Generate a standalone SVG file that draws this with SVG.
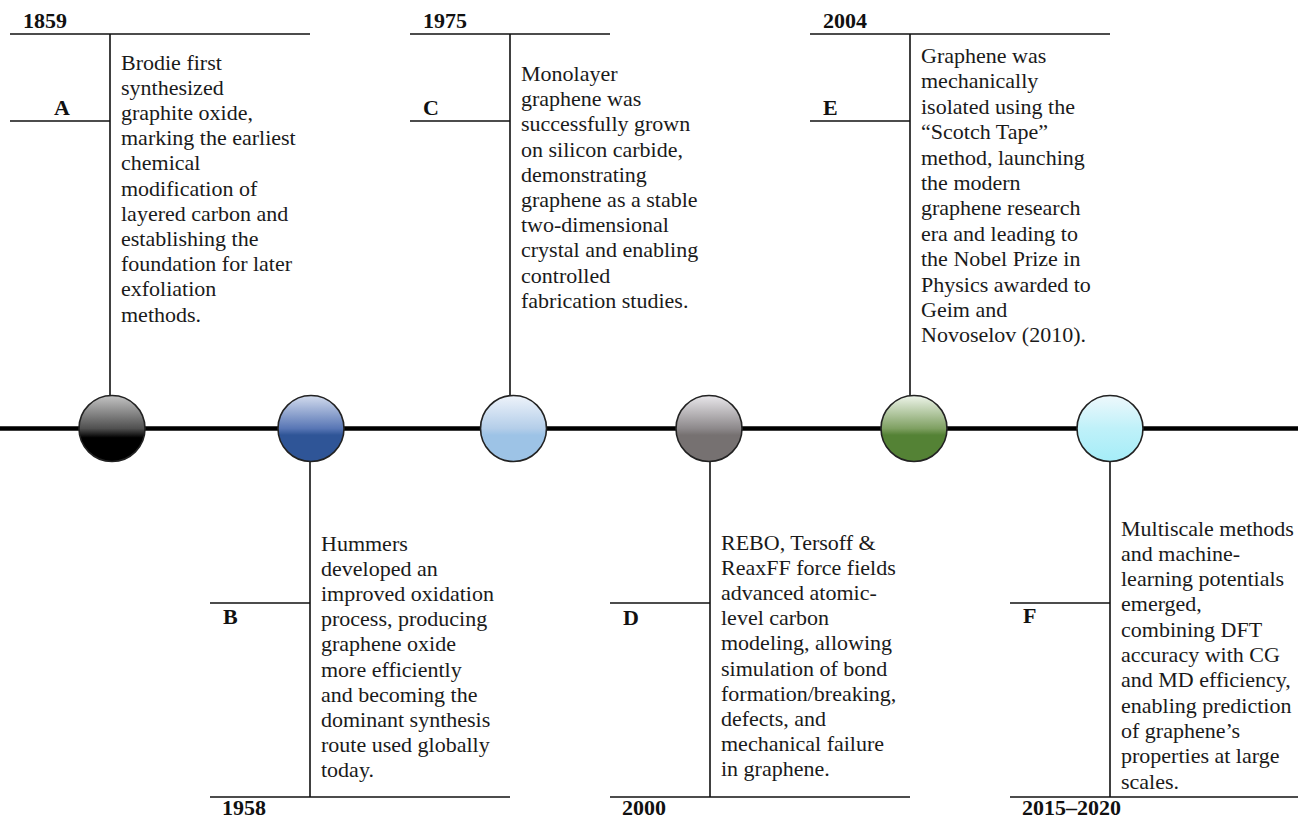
<svg xmlns="http://www.w3.org/2000/svg" width="1298" height="820" viewBox="0 0 1298 820">
<style>
.ln{stroke:#111;stroke-width:1.6;fill:none}
.main{stroke:#000;stroke-width:4.5}
.dot{stroke:#222;stroke-width:1.6}
.yr{font-family:"Liberation Serif","Times New Roman",serif;font-weight:bold;font-size:22px;fill:#111}
.lb{font-family:"Liberation Serif","Times New Roman",serif;font-weight:bold;font-size:22px;fill:#111}
.tx{font-family:"Liberation Serif","Times New Roman",serif;font-size:22px;fill:#1a1a1a}
</style>
<defs>
<linearGradient id="gA" x1="0" y1="0" x2="0" y2="1"><stop offset="0" stop-color="#c4c4c4"/><stop offset="0.5" stop-color="#505050"/><stop offset="0.64" stop-color="#000"/><stop offset="1" stop-color="#000"/></linearGradient>
<linearGradient id="gB" x1="0" y1="0" x2="0" y2="1"><stop offset="0" stop-color="#d3dcee"/><stop offset="0.5" stop-color="#5876b5"/><stop offset="0.6" stop-color="#2f5597"/><stop offset="1" stop-color="#2f5597"/></linearGradient>
<linearGradient id="gC" x1="0" y1="0" x2="0" y2="1"><stop offset="0" stop-color="#eef3fa"/><stop offset="0.5" stop-color="#b4cee9"/><stop offset="0.6" stop-color="#9dc3e6"/><stop offset="1" stop-color="#9dc3e6"/></linearGradient>
<linearGradient id="gD" x1="0" y1="0" x2="0" y2="1"><stop offset="0" stop-color="#e9e7eb"/><stop offset="0.5" stop-color="#8d898b"/><stop offset="0.6" stop-color="#767171"/><stop offset="1" stop-color="#767171"/></linearGradient>
<linearGradient id="gE" x1="0" y1="0" x2="0" y2="1"><stop offset="0" stop-color="#eef5ea"/><stop offset="0.5" stop-color="#7fa062"/><stop offset="0.6" stop-color="#548235"/><stop offset="1" stop-color="#548235"/></linearGradient>
<linearGradient id="gF" x1="0" y1="0" x2="0" y2="1"><stop offset="0" stop-color="#eef8fc"/><stop offset="0.5" stop-color="#bff1f9"/><stop offset="1" stop-color="#a5edf8"/></linearGradient>
</defs>
<rect width="1298" height="820" fill="#fff"/>
<g id="connectors">
<line class="main" x1="0" y1="428.5" x2="1298" y2="428.5"/>
<line class="ln" x1="10" y1="34" x2="310" y2="34"/>
<line class="ln" x1="10" y1="121" x2="110" y2="121"/>
<line class="ln" x1="110" y1="34" x2="110" y2="396"/>
<line class="ln" x1="210" y1="797" x2="510" y2="797"/>
<line class="ln" x1="210" y1="603" x2="310" y2="603"/>
<line class="ln" x1="310" y1="461" x2="310" y2="797"/>
<line class="ln" x1="410" y1="34" x2="610" y2="34"/>
<line class="ln" x1="410" y1="121" x2="510" y2="121"/>
<line class="ln" x1="510" y1="34" x2="510" y2="396"/>
<line class="ln" x1="610" y1="797" x2="910" y2="797"/>
<line class="ln" x1="610" y1="603" x2="710" y2="603"/>
<line class="ln" x1="710" y1="461" x2="710" y2="797"/>
<line class="ln" x1="810" y1="34" x2="1110" y2="34"/>
<line class="ln" x1="810" y1="121" x2="910" y2="121"/>
<line class="ln" x1="910" y1="34" x2="910" y2="396"/>
<line class="ln" x1="1010" y1="797" x2="1298" y2="797"/>
<line class="ln" x1="1010" y1="603" x2="1110" y2="603"/>
<line class="ln" x1="1110" y1="461" x2="1110" y2="797"/>
</g>
<g id="nodeA">
<circle class="dot" cx="112" cy="428.5" r="33" fill="url(#gA)"/>
<text class="yr" x="23" y="28">1859</text>
<text class="lb" x="54" y="115">A</text>
<text class="tx"><tspan x="121" y="69.5">Brodie first</tspan><tspan x="121" dy="25.2">synthesized</tspan><tspan x="121" dy="25.2">graphite oxide,</tspan><tspan x="121" dy="25.2">marking the earliest</tspan><tspan x="121" dy="25.2">chemical</tspan><tspan x="121" dy="25.2">modification of</tspan><tspan x="121" dy="25.2">layered carbon and</tspan><tspan x="121" dy="25.2">establishing the</tspan><tspan x="121" dy="25.2">foundation for later</tspan><tspan x="121" dy="25.2">exfoliation</tspan><tspan x="121" dy="25.2">methods.</tspan></text>
</g>
<g id="nodeB">
<circle class="dot" cx="311" cy="428.5" r="33" fill="url(#gB)"/>
<text class="yr" x="222" y="815">1958</text>
<text class="lb" x="223" y="624">B</text>
<text class="tx"><tspan x="321" y="550.5">Hummers</tspan><tspan x="321" dy="25.2">developed an</tspan><tspan x="321" dy="25.2">improved oxidation</tspan><tspan x="321" dy="25.2">process, producing</tspan><tspan x="321" dy="25.2">graphene oxide</tspan><tspan x="321" dy="25.2">more efficiently</tspan><tspan x="321" dy="25.2">and becoming the</tspan><tspan x="321" dy="25.2">dominant synthesis</tspan><tspan x="321" dy="25.2">route used globally</tspan><tspan x="321" dy="25.2">today.</tspan></text>
</g>
<g id="nodeC">
<circle class="dot" cx="513.5" cy="428.5" r="33" fill="url(#gC)"/>
<text class="yr" x="423" y="28">1975</text>
<text class="lb" x="423" y="115">C</text>
<text class="tx"><tspan x="521" y="81">Monolayer</tspan><tspan x="521" dy="25.2">graphene was</tspan><tspan x="521" dy="25.2">successfully grown</tspan><tspan x="521" dy="25.2">on silicon carbide,</tspan><tspan x="521" dy="25.2">demonstrating</tspan><tspan x="521" dy="25.2">graphene as a stable</tspan><tspan x="521" dy="25.2">two-dimensional</tspan><tspan x="521" dy="25.2">crystal and enabling</tspan><tspan x="521" dy="25.2">controlled</tspan><tspan x="521" dy="25.2">fabrication studies.</tspan></text>
</g>
<g id="nodeD">
<circle class="dot" cx="709" cy="428.5" r="33" fill="url(#gD)"/>
<text class="yr" x="622" y="815">2000</text>
<text class="lb" x="623" y="625">D</text>
<text class="tx"><tspan x="721" y="550">REBO, Tersoff &amp;</tspan><tspan x="721" dy="25.1">ReaxFF force fields</tspan><tspan x="721" dy="25.1">advanced atomic-</tspan><tspan x="721" dy="25.1">level carbon</tspan><tspan x="721" dy="25.1">modeling, allowing</tspan><tspan x="721" dy="25.1">simulation of bond</tspan><tspan x="721" dy="25.1">formation/breaking,</tspan><tspan x="721" dy="25.1">defects, and</tspan><tspan x="721" dy="25.1">mechanical failure</tspan><tspan x="721" dy="25.1">in graphene.</tspan></text>
</g>
<g id="nodeE">
<circle class="dot" cx="914" cy="428.5" r="33" fill="url(#gE)"/>
<text class="yr" x="823" y="28">2004</text>
<text class="lb" x="823" y="115">E</text>
<text class="tx"><tspan x="921" y="63">Graphene was</tspan><tspan x="921" dy="25.4">mechanically</tspan><tspan x="921" dy="25.4">isolated using the</tspan><tspan x="921" dy="25.4">“Scotch Tape”</tspan><tspan x="921" dy="25.4">method, launching</tspan><tspan x="921" dy="25.4">the modern</tspan><tspan x="921" dy="25.4">graphene research</tspan><tspan x="921" dy="25.4">era and leading to</tspan><tspan x="921" dy="25.4">the Nobel Prize in</tspan><tspan x="921" dy="25.4">Physics awarded to</tspan><tspan x="921" dy="25.4">Geim and</tspan><tspan x="921" dy="25.4">Novoselov (2010).</tspan></text>
</g>
<g id="nodeF">
<circle class="dot" cx="1110" cy="428.5" r="33" fill="url(#gF)"/>
<text class="yr" x="1022" y="815">2015–2020</text>
<text class="lb" x="1023" y="623">F</text>
<text class="tx"><tspan x="1121" y="535.5">Multiscale methods</tspan><tspan x="1121" dy="25.3">and machine-</tspan><tspan x="1121" dy="25.3">learning potentials</tspan><tspan x="1121" dy="25.3">emerged,</tspan><tspan x="1121" dy="25.3">combining DFT</tspan><tspan x="1121" dy="25.3">accuracy with CG</tspan><tspan x="1121" dy="25.3">and MD efficiency,</tspan><tspan x="1121" dy="25.3">enabling prediction</tspan><tspan x="1121" dy="25.3">of graphene’s</tspan><tspan x="1121" dy="25.3">properties at large</tspan><tspan x="1121" dy="25.3">scales.</tspan></text>
</g>
</svg>
